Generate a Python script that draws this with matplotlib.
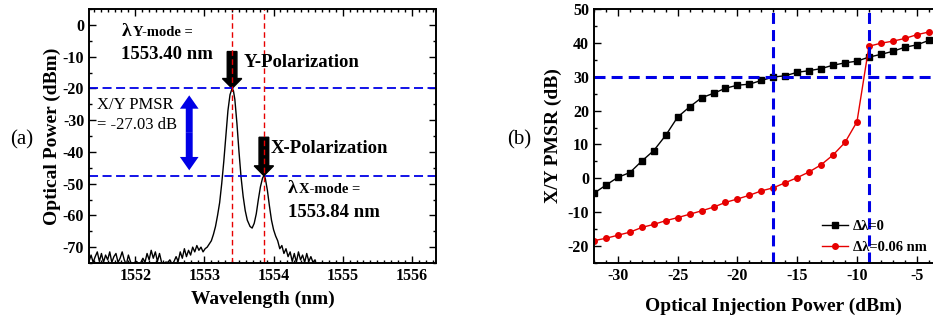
import matplotlib
matplotlib.use("Agg")
import matplotlib.pyplot as plt
from matplotlib.patches import FancyArrow
from matplotlib.ticker import MultipleLocator

plt.rcParams['font.family'] = ['Liberation Serif', 'DejaVu Serif']
plt.rcParams['font.weight'] = 'bold'
plt.rcParams['axes.labelweight'] = 'bold'
plt.rcParams['axes.unicode_minus'] = False

# (a) optical spectrum
wavelength = [
    1551.33, 1551.36, 1551.39, 1551.42, 1551.45, 1551.48, 1551.51, 1551.54, 1551.57, 1551.60,
    1551.63, 1551.66, 1551.69, 1551.72, 1551.75, 1551.78, 1551.81, 1551.84, 1551.87, 1551.90,
    1551.93, 1551.96, 1551.99, 1552.02, 1552.05, 1552.08, 1552.11, 1552.14, 1552.17, 1552.20,
    1552.23, 1552.26, 1552.29, 1552.32, 1552.35, 1552.38, 1552.41, 1552.44, 1552.47, 1552.50,
    1552.53, 1552.56, 1552.59, 1552.62, 1552.65, 1552.68, 1552.71, 1552.74, 1552.77, 1552.80,
    1552.83, 1552.86, 1552.89, 1552.92, 1552.95, 1552.98,
    1553.01, 1553.04, 1553.07, 1553.10, 1553.13, 1553.16, 1553.19, 1553.22, 1553.25, 1553.28,
    1553.31, 1553.34, 1553.37, 1553.40, 1553.42, 1553.44, 1553.47, 1553.50, 1553.53, 1553.56,
    1553.59, 1553.62, 1553.66, 1553.69, 1553.72, 1553.75, 1553.78, 1553.81, 1553.84, 1553.86,
    1553.88, 1553.91, 1553.94, 1553.97, 1554.00, 1554.03, 1554.06, 1554.09, 1554.12,
    1554.15, 1554.18, 1554.21, 1554.24, 1554.27, 1554.30, 1554.33, 1554.36, 1554.39, 1554.42,
    1554.45, 1554.48, 1554.51, 1554.54, 1554.57, 1554.60, 1554.63, 1556.40,
]
power = [
    -74.5, -72.5, -74.8, -73, -71.5, -74.5, -72, -74.8, -72.5, -74,
    -71.5, -74.8, -73, -72, -74.8, -73.5, -71.5, -74, -75.5, -72.5,
    -74.6, -75.5, -74.8, -74.5, -75.5, -74.8, -73.5, -74.8, -72, -74,
    -71, -73.5, -71.5, -74.5, -72, -74.8, -75.5, -74.7, -74.8, -74,
    -75.5, -74.5, -73, -74.5, -71.5, -73.5, -70.5, -73, -71, -72.5,
    -70, -71.5, -69.5, -71, -70, -71.5,
    -70.5, -70, -69, -68, -66, -63.5, -60, -56, -50, -43,
    -35, -27, -22, -20, -20.8, -23.5, -31, -40, -48, -54,
    -58.5, -61.5, -63.5, -64, -62.5, -59.5, -55, -51, -48.3, -47.5,
    -48.3, -52, -57, -61.5, -64.5, -66.5, -68, -70.5, -69.5,
    -72, -70.5, -73, -71.5, -74.5, -72, -74.8, -71.5, -74, -72.5,
    -74.8, -72, -74.5, -73, -74.8, -74, -78, -78,
]
y_peak_wl, x_peak_wl = 1553.40, 1553.86
y_peak_dbm, x_peak_dbm = -20.0, -47.5

# (b) PMSR vs injection power
inj_power = [-32, -31, -30, -29, -28, -27, -26, -25, -24, -23, -22, -21, -20, -19, -18,
             -17, -16, -15, -14, -13, -12, -11, -10, -9, -8, -7, -6, -5, -4]
pmsr_0 = [-4.4, -2.0, 0.3, 1.7, 5.1, 8.2, 12.7, 18.1, 21.1, 23.8, 25.1, 26.6, 27.5, 27.8, 28.9,
          29.9, 30.3, 31.3, 31.8, 32.4, 33.4, 34.1, 34.6, 35.8, 36.6, 37.5, 38.7, 39.4, 40.7]
pmsr_006 = [-18.4, -17.7, -16.8, -15.9, -14.5, -13.6, -12.5, -11.6, -10.6, -9.6, -8.5, -7.1,
            -6.1, -5.0, -3.7, -2.8, -1.3, 0.2, 1.9, 4.0, 6.9, 10.6, 16.7, 39.0, 39.9, 40.5,
            41.3, 42.4, 43.2]
pmsr_level = 30
inj_marks = [-17, -9]

blue = '#0000e6'
red = '#e60000'

fig = plt.figure(figsize=(9.33, 3.2), dpi=100)
W, H = 933, 320
ax1 = fig.add_axes([89 / W, 1 - 263 / H, (436 - 89) / W, (263 - 9) / H])
ax2 = fig.add_axes([594 / W, 1 - 263 / H, (952 - 594) / W, (263 - 9) / H])


def style_axis(ax):
    for s in ax.spines.values():
        s.set_linewidth(1.4)
    ax.tick_params(which='both', direction='in', top=True, right=True,
                   labelsize=11.5, width=1)
    ax.tick_params(which='major', length=5)
    ax.tick_params(which='minor', length=2.5)


# ---- panel (a)
ax1.plot(wavelength, power, color='black', lw=1.0)
ax1.set_xlim(1551.33, 1556.35)
ax1.set_ylim(-75, 5)
ax1.xaxis.set_major_locator(MultipleLocator(1))
ax1.xaxis.set_minor_locator(MultipleLocator(0.1))
ax1.yaxis.set_major_locator(MultipleLocator(10))
ax1.yaxis.set_minor_locator(MultipleLocator(5))
style_axis(ax1)
ax1.set_xlabel('Wavelength (nm)', fontsize=14, labelpad=5)
ax1.set_ylabel('Optical Power (dBm)', fontsize=14, labelpad=1)

for yv in (y_peak_dbm, x_peak_dbm):
    ax1.axhline(yv, color=blue, lw=1.3, linestyle=(0, (5, 2.5)))
for xv in (y_peak_wl, x_peak_wl):
    ax1.axvline(xv, color=red, lw=1.0, linestyle=(0, (4, 2.5)))

# black arrows onto the peaks
ax1.add_patch(FancyArrow(y_peak_wl, -8.4, 0, y_peak_dbm + 8.4, width=0.14, head_width=0.28,
                         head_length=3.1, length_includes_head=True, color='black'))
ax1.add_patch(FancyArrow(x_peak_wl, -35.4, 0, x_peak_dbm + 35.4, width=0.14, head_width=0.28,
                         head_length=3.1, length_includes_head=True, color='black'))
# blue double arrow
mid = -34
for end in (-22.2, -45.8):
    ax1.add_patch(FancyArrow(1552.78, mid, 0, end - mid, width=0.1, head_width=0.27,
                             head_length=4.2, length_includes_head=True, color=blue, lw=0))

ax1.text(1551.80, -2.0, 'λ', fontsize=14, va='center', ha='left')
ax1.text(1551.96, -2.4, 'Y-mode =', fontsize=10.5, va='center', ha='left')
ax1.text(1551.80, -9.2, '1553.40 nm', fontsize=13.5, va='center', ha='left')
ax1.text(1553.56, -11.8, 'Y-Polarization', fontsize=13.5, va='center', ha='left')
ax1.text(1553.96, -38.8, 'X-Polarization', fontsize=13.5, va='center', ha='left')
ax1.text(1554.21, -51.5, 'λ', fontsize=14, va='center', ha='left')
ax1.text(1554.37, -51.9, 'X-mode =', fontsize=10.5, va='center', ha='left')
ax1.text(1554.21, -59.0, '1553.84 nm', fontsize=13.5, va='center', ha='left')
ax1.text(1551.44, -25.2, 'X/Y PMSR', fontsize=12, fontweight='normal', va='center', ha='left')
ax1.text(1551.44, -31.5, '= -27.03 dB', fontsize=12, fontweight='normal', va='center', ha='left')

# ---- panel (b)
ax2.plot(inj_power, pmsr_0, color='black', lw=1.0, marker='s', ms=4, label='Δλ=0')
ax2.plot(inj_power, pmsr_006, color=red, lw=1.0, marker='o', ms=4, label='Δλ=0.06 nm')
ax2.axhline(pmsr_level, color=blue, lw=2.2, linestyle=(0, (3.6, 2)))
for xv in inj_marks:
    ax2.axvline(xv, color=blue, lw=2.2, linestyle=(0, (3.6, 2)))
ax2.set_xlim(-32, -2.05)
ax2.set_ylim(-25, 50)
ax2.xaxis.set_major_locator(MultipleLocator(5))
ax2.xaxis.set_minor_locator(MultipleLocator(1))
ax2.yaxis.set_major_locator(MultipleLocator(10))
ax2.yaxis.set_minor_locator(MultipleLocator(5))
style_axis(ax2)
ax2.set_xlabel('Optical Injection Power (dBm)', fontsize=14, labelpad=10)
ax2.set_ylabel('X/Y PMSR (dB)', fontsize=14, labelpad=4)
ax2.legend(loc='lower left', bbox_to_anchor=(0.6, -0.015), frameon=False, fontsize=10.5,
           handlelength=1.8, handletextpad=0.3, labelspacing=0.5)

for lab in ax1.get_xticklabels() + ax1.get_yticklabels() + ax2.get_xticklabels() + ax2.get_yticklabels():
    lab.set_fontweight('bold')

fig.text(10 / W, 1 - 140 / H, '(a)', fontsize=15, fontweight='normal', va='center', ha='left')
fig.text(507 / W, 1 - 140 / H, '(b)', fontsize=15, fontweight='normal', va='center', ha='left')

fig.savefig('out.png', dpi=100)
